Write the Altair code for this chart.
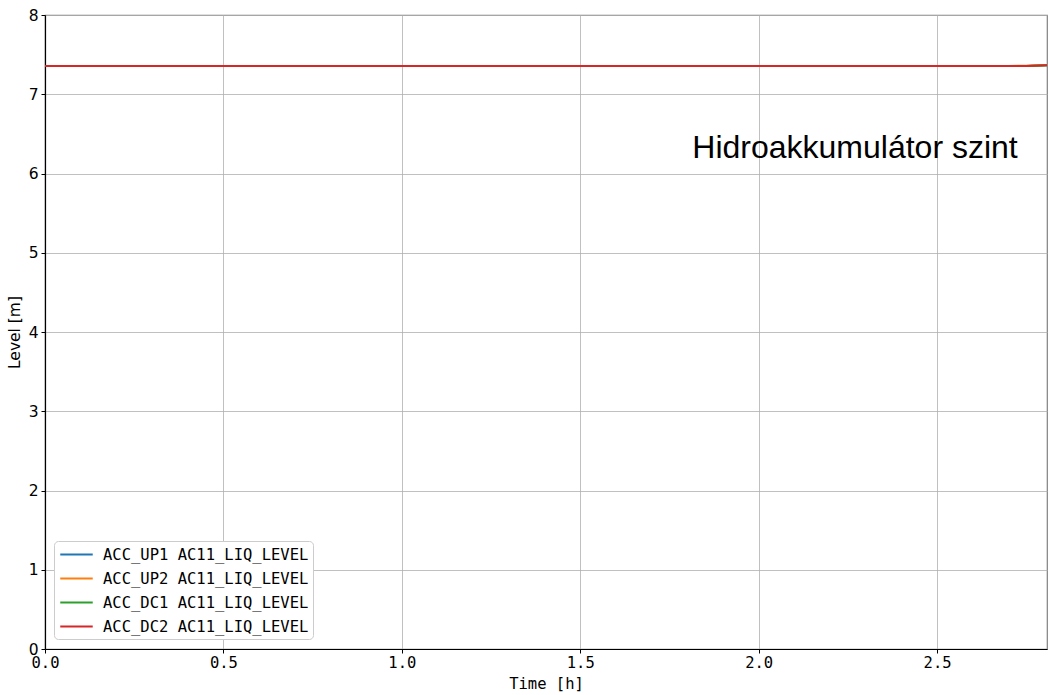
import altair as alt
import pandas as pd

# Time axis samples [h]
time_h = [0.0, 0.5, 1.0, 1.5, 2.0, 2.5, 2.6, 2.7, 2.75, 2.808]

# Accumulator liquid levels [m]
acc_up1 = [7.356, 7.356, 7.356, 7.356, 7.356, 7.356, 7.356, 7.356, 7.358, 7.366]
acc_up2 = [7.356, 7.356, 7.356, 7.356, 7.356, 7.356, 7.356, 7.357, 7.360, 7.370]
acc_dc1 = [7.356, 7.356, 7.356, 7.356, 7.356, 7.356, 7.356, 7.356, 7.358, 7.366]
acc_dc2 = [7.356, 7.356, 7.356, 7.356, 7.356, 7.356, 7.356, 7.356, 7.358, 7.366]

series_names = [
    "ACC_UP1 AC11_LIQ_LEVEL",
    "ACC_UP2 AC11_LIQ_LEVEL",
    "ACC_DC1 AC11_LIQ_LEVEL",
    "ACC_DC2 AC11_LIQ_LEVEL",
]
series_colors = ["#1f77b4", "#ff7f0e", "#2ca02c", "#d62728"]

annotation_text = ["Hidroakkumulátor szint"]
annotation_x = [2.27]
annotation_y = [6.32]

rows = []
for order, (name, vals) in enumerate(zip(series_names, [acc_up1, acc_up2, acc_dc1, acc_dc2])):
    for t, v in zip(time_h, vals):
        rows.append({"time": t, "level": v, "series": name, "order": order})
df = pd.DataFrame(rows)

x_scale = alt.Scale(domain=[0, 2.808], nice=False, zero=False)
y_scale = alt.Scale(domain=[0, 8], nice=False)

lines = alt.Chart(df).mark_line(strokeWidth=2, clip=True).encode(
    x=alt.X(
        "time:Q",
        scale=x_scale,
        title="Time [h]",
        axis=alt.Axis(
            values=[0, 0.5, 1.0, 1.5, 2.0, 2.5],
            format=".1f",
            labelFlush=False,
            labelFont="DejaVu Sans Mono",
            labelFontSize=15.5,
            titleFont="DejaVu Sans Mono",
            titleFontSize=15.5,
            titleFontWeight="normal",
            titlePadding=6,
            labelPadding=2,
        ),
    ),
    y=alt.Y(
        "level:Q",
        scale=y_scale,
        title="Level [m]",
        axis=alt.Axis(
            values=[0, 1, 2, 3, 4, 5, 6, 7, 8],
            format="d",
            labelFlush=False,
            labelFont="DejaVu Sans",
            labelFontSize=15.5,
            titleFont="DejaVu Sans",
            titleFontSize=15.5,
            titleFontWeight="normal",
            titlePadding=6,
            labelPadding=3,
        ),
    ),
    color=alt.Color(
        "series:N",
        scale=alt.Scale(domain=series_names, range=series_colors),
        sort=series_names,
        title=None,
        legend=alt.Legend(
            orient="none",
            legendX=9,
            legendY=526,
            # wide, flat line swatch
            symbolType="M-2,0H2",
            symbolSize=264,
            symbolStrokeWidth=2,
            symbolOffset=9,
            labelFont="DejaVu Sans Mono",
            labelFontSize=15.5,
            labelColor="#000000",
            labelLimit=0,
            labelOffset=17,
            rowPadding=6,
            fillColor="white",
            strokeColor="#cccccc",
            cornerRadius=4,
            padding=4,
        ),
    ),
    order=alt.Order("order:Q"),
    detail="series:N",
)

annotation_df = pd.DataFrame({"label": annotation_text, "x": annotation_x, "y": annotation_y})
annotation = alt.Chart(annotation_df).mark_text(
    font="Liberation Sans", fontSize=32, color="#000000", align="center", baseline="middle"
).encode(
    x=alt.X("x:Q", scale=x_scale),
    y=alt.Y("y:Q", scale=y_scale),
    text="label:N",
)

chart = (
    alt.layer(lines, annotation)
    .properties(
        width=1002,
        height=634,
        autosize=alt.AutoSizeParams(type="none"),
        padding={"left": 45, "top": 15, "right": 1, "bottom": 46},
        background="white",
    )
    .configure_view(stroke="#808080", strokeWidth=1.2)
    .configure_axis(
        grid=True,
        gridColor="#b0b0b0",
        gridWidth=0.8,
        domainColor="#000000",
        domainWidth=1.2,
        tickColor="#000000",
        tickSize=4,
        labelColor="#000000",
        titleColor="#000000",
    )
)

chart.save("out.html", embed_options={"renderer": "svg", "actions": False})
